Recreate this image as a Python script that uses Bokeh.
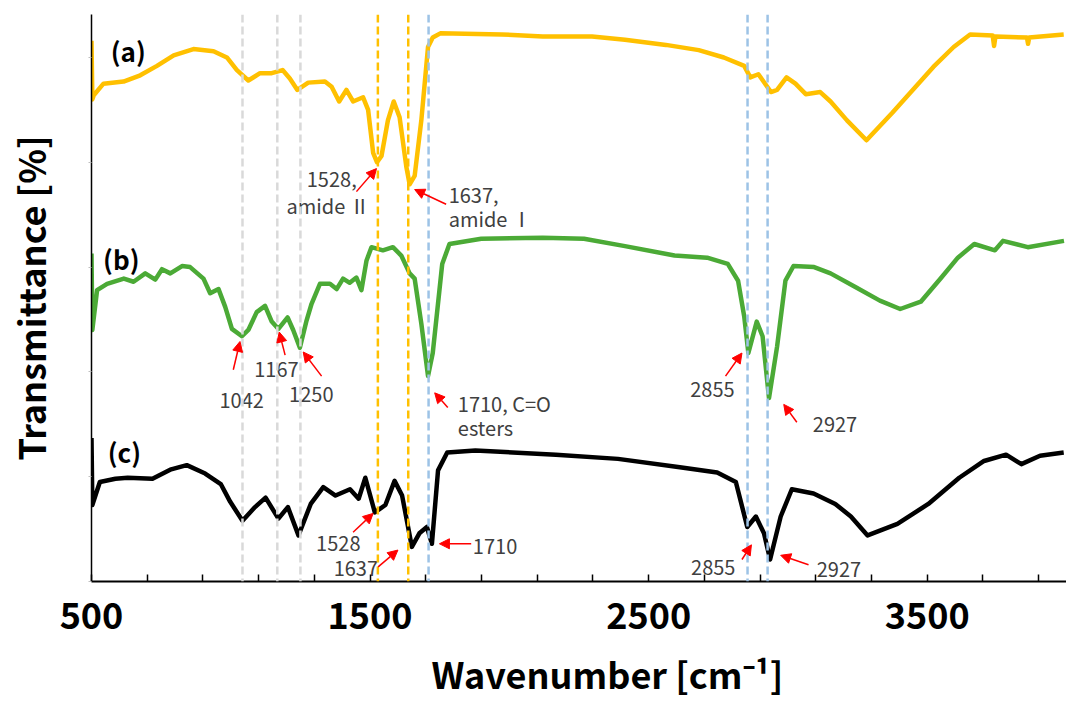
from bokeh.plotting import figure
from bokeh.models import FixedTicker, Arrow, NormalHead, Range1d, Span, ColumnDataSource, Title
from bokeh.core.properties import value
from bokeh.embed import file_html
from bokeh.resources import INLINE

# ---- spectra (wavenumber, transmittance offset a.u.) ----
wn_a = [500, 503, 508, 543, 615, 675, 735, 795, 866, 938, 986, 1022, 1063, 1105, 1147, 1186, 1212, 1239, 1278, 1338,
        1362, 1389, 1415, 1439, 1475, 1493, 1511, 1525, 1541, 1564, 1585, 1606, 1630, 1642, 1660, 1684, 1708, 1725, 1752, 1973,
        2120, 2297, 2415, 2562, 2680, 2770, 2843, 2865, 2894, 2939, 2961, 2995, 3027, 3064, 3116, 3153, 3212, 3282, 3374, 3448,
        3522, 3595, 3654, 3735, 3740, 3745, 3858, 3862, 3866, 3990]
t_a = [5.16, 4.60, 4.64, 4.75, 4.77, 4.83, 4.92, 5.02, 5.08, 5.06, 5.00, 4.88, 4.78, 4.85, 4.85, 4.88, 4.80, 4.69, 4.76, 4.77,
       4.72, 4.58, 4.69, 4.58, 4.62, 4.50, 4.09, 4.00, 4.06, 4.40, 4.58, 4.43, 3.96, 3.79, 3.87, 4.40, 5.10, 5.19, 5.23, 5.22,
       5.20, 5.20, 5.17, 5.12, 5.07, 5.00, 4.92, 4.81, 4.84, 4.67, 4.69, 4.81, 4.75, 4.65, 4.67, 4.58, 4.40, 4.21, 4.47, 4.69,
       4.91, 5.10, 5.22, 5.21, 5.11, 5.20, 5.19, 5.13, 5.19, 5.22]

wn_b = [500, 503, 520, 556, 616, 651, 693, 729, 753, 783, 825, 854, 902, 926, 956, 980, 1004, 1040, 1063, 1093,
        1123, 1147, 1171, 1204, 1224, 1248, 1272, 1290, 1320, 1356, 1380, 1403, 1427, 1451, 1469, 1487, 1505, 1546, 1582, 1612,
        1642, 1660, 1684, 1708, 1725, 1749, 1759, 1785, 1899, 2120, 2268, 2415, 2593, 2710, 2784, 2821, 2843, 2858, 2888, 2909,
        2932, 2961, 2991, 3020, 3094, 3153, 3242, 3330, 3403, 3477, 3551, 3610, 3669, 3743, 3772, 3861, 3991]
t_b = [3.13, 2.40, 2.78, 2.84, 2.89, 2.86, 2.94, 2.88, 2.98, 2.94, 3.01, 3.00, 2.89, 2.75, 2.79, 2.62, 2.41, 2.34, 2.40, 2.57,
       2.63, 2.48, 2.41, 2.52, 2.40, 2.23, 2.49, 2.65, 2.84, 2.84, 2.79, 2.89, 2.85, 2.90, 2.78, 3.06, 3.19, 3.16, 3.19, 3.11,
       2.94, 2.89, 2.46, 1.96, 2.18, 2.78, 3.03, 3.22, 3.27, 3.28, 3.27, 3.20, 3.11, 3.09, 3.03, 2.87, 2.53, 2.18, 2.48, 2.34,
       1.75, 2.24, 2.87, 3.01, 3.00, 2.94, 2.81, 2.68, 2.60, 2.67, 2.90, 3.09, 3.22, 3.16, 3.25, 3.19, 3.25]

wn_c = [500, 503, 530, 586, 630, 719, 786, 842, 908, 964, 998, 1042, 1087, 1125, 1171, 1205, 1243, 1287, 1332, 1376,
        1428, 1459, 1483, 1517, 1555, 1588, 1615, 1650, 1677, 1704, 1722, 1744, 1777, 1878, 2167, 2390, 2612, 2746, 2813, 2854,
        2885, 2914, 2936, 2974, 3014, 3092, 3170, 3226, 3286, 3393, 3504, 3615, 3704, 3783, 3838, 3905, 3990]
t_c = [1.37, 0.73, 0.95, 0.98, 0.99, 0.98, 1.07, 1.11, 1.03, 0.93, 0.76, 0.58, 0.71, 0.80, 0.60, 0.71, 0.44, 0.74, 0.90, 0.82,
       0.88, 0.79, 0.99, 0.66, 0.73, 0.96, 0.82, 0.33, 0.46, 0.52, 0.36, 1.06, 1.23, 1.25, 1.21, 1.17, 1.09, 1.04, 0.95, 0.52,
       0.62, 0.46, 0.21, 0.62, 0.88, 0.84, 0.74, 0.62, 0.44, 0.55, 0.74, 0.99, 1.15, 1.21, 1.12, 1.20, 1.23]

# ---- reference peak positions ----
peaks_gray = [1042, 1167, 1250]
peaks_amide = [1528, 1637]
peaks_ester = [1710, 2855, 2927]

# ---- axis ticks ----
tick_labelled = [500, 1500, 2500, 3500]
tick_unlabelled = [700, 900, 1100, 1300, 1700, 1900, 2100, 2300, 2700, 2900, 3100, 3300, 3700, 3900]
y_ticks = [0, 1, 2, 3, 4, 5]

# ---- panel labels ----
panel_text = ["(a)", "(b)", "(c)"]
panel_x = [632, 607, 618]
panel_y = [5.07, 3.08, 1.24]

# ---- peak annotations: arrows (tail -> head) and texts ----
arrows = [
    (1451, 3.72, 1523, 3.94),
    (1773, 3.60, 1660, 3.74),
    (1009, 2.02, 1033, 2.29),
    (1195, 2.16, 1174, 2.38),
    (1326, 1.96, 1260, 2.19),
    (1779, 1.66, 1732, 1.80),
    (2776, 1.96, 2835, 2.18),
    (3032, 1.52, 2985, 1.69),
    (1439, 0.47, 1511, 0.65),
    (1529, 0.14, 1600, 0.30),
    (1863, 0.36, 1749, 0.36),
    (2835, 0.21, 2869, 0.35),
    (3074, 0.16, 2974, 0.25),
]
notes = [
    ("1528,", 1452, 3.84, "right"),
    ("amide Ⅱ", 1499, 3.59, "right"),
    ("1637,", 1782, 3.68, "left"),
    ("amide Ⅰ", 1782, 3.46, "left"),
    ("1042", 1039, 1.73, "center"),
    ("1167", 1164, 2.02, "center"),
    ("1250", 1289, 1.78, "center"),
    ("1710, C=O", 1815, 1.70, "left"),
    ("esters", 1815, 1.47, "left"),
    ("2855", 2729, 1.83, "center"),
    ("2927", 3169, 1.50, "center"),
    ("1528", 1386, 0.36, "center"),
    ("1637", 1449, 0.12, "center"),
    ("1710", 1869, 0.33, "left"),
    ("2855", 2732, 0.13, "center"),
    ("2927", 3183, 0.11, "center"),
]

x_title = "Wavenumber [cm⁻¹]"
y_title = "Transmittance [%]"

FONT = "Noto Sans CJK JP"

p = figure(width=1066, height=711, x_range=Range1d(500, 4000), y_range=Range1d(0, 5.41),
           output_backend="svg", toolbar_location=None,
           min_border_left=91, min_border_right=0, min_border_top=14, min_border_bottom=126)
p.outline_line_color = None
p.grid.visible = False

# spectra
p.line(wn_a, t_a, line_color="#FFC000", line_width=4.5, line_join="round")
p.line(wn_b, t_b, line_color="#4BAA36", line_width=4.5, line_join="round")
p.line(wn_c, t_c, line_color="#000000", line_width=4.5, line_join="round")

# dashed reference lines
for w in peaks_gray:
    p.add_layout(Span(location=w, dimension="height", line_color="#D9D9D9", line_width=2.5, line_dash="8 4"))
for w in peaks_amide:
    p.add_layout(Span(location=w, dimension="height", line_color="#FFC000", line_width=2.5, line_dash="8 4"))
for w in peaks_ester:
    p.add_layout(Span(location=w, dimension="height", line_color="#9DC3E6", line_width=2.5, line_dash="8 4"))

# arrows
for x0, y0, x1, y1 in arrows:
    p.add_layout(Arrow(end=NormalHead(size=10, fill_color="#FF0000", line_color="#FF0000"),
                       x_start=x0, y_start=y0, x_end=x1, y_end=y1,
                       line_color="#FF0000", line_width=1.5))

# annotation texts
for align in ["left", "center", "right"]:
    sel = [n for n in notes if n[3] == align]
    src = ColumnDataSource(dict(x=[n[1] for n in sel], y=[n[2] for n in sel], t=[n[0] for n in sel]))
    p.text(x="x", y="y", text="t", source=src, text_align=align, text_baseline="middle",
           text_font=value(FONT), text_font_size="20px", text_color="#404040")

# panel labels
p.text(x=panel_x, y=panel_y, text=panel_text, text_align="center", text_baseline="middle",
       text_font=value(FONT), text_font_size="26px", text_font_style="bold", text_color="#000000")

# x axis
xa = p.xaxis[0]
xa.ticker = FixedTicker(ticks=tick_labelled, minor_ticks=tick_unlabelled)
xa.major_label_text_font = FONT
xa.major_label_text_font_style = "bold"
xa.major_label_text_font_size = "36px"
xa.major_label_text_color = "#000000"
xa.major_label_standoff = 20
xa.major_tick_in = 7
xa.major_tick_out = 0
xa.major_tick_line_width = 1.5
xa.major_tick_line_color = "#000000"
xa.minor_tick_in = 7
xa.minor_tick_out = 0
xa.minor_tick_line_width = 1.5
xa.minor_tick_line_color = "#000000"
xa.axis_line_width = 2
xa.axis_line_color = "#000000"

# x-axis title as a bottom title, shifted right as in the reference
p.add_layout(Title(text=x_title, align="left", offset=340, standoff=26,
                   text_font=FONT, text_font_style="bold", text_font_size="36px",
                   text_color="#000000"), "below")

# y axis
ya = p.yaxis[0]
ya.ticker = FixedTicker(ticks=[], minor_ticks=y_ticks)
ya.major_tick_line_color = None
ya.minor_tick_in = 0
ya.minor_tick_out = 3
ya.minor_tick_line_color = "#BFBFBF"
ya.axis_line_width = 1.5
ya.axis_line_color = "#000000"
ya.axis_label = y_title
ya.axis_label_text_font = FONT
ya.axis_label_text_font_style = "bold"
ya.axis_label_text_font_size = "36px"
ya.axis_label_text_color = "#000000"
ya.axis_label_standoff = 33

open("out.html", "w").write(file_html(p, INLINE))
